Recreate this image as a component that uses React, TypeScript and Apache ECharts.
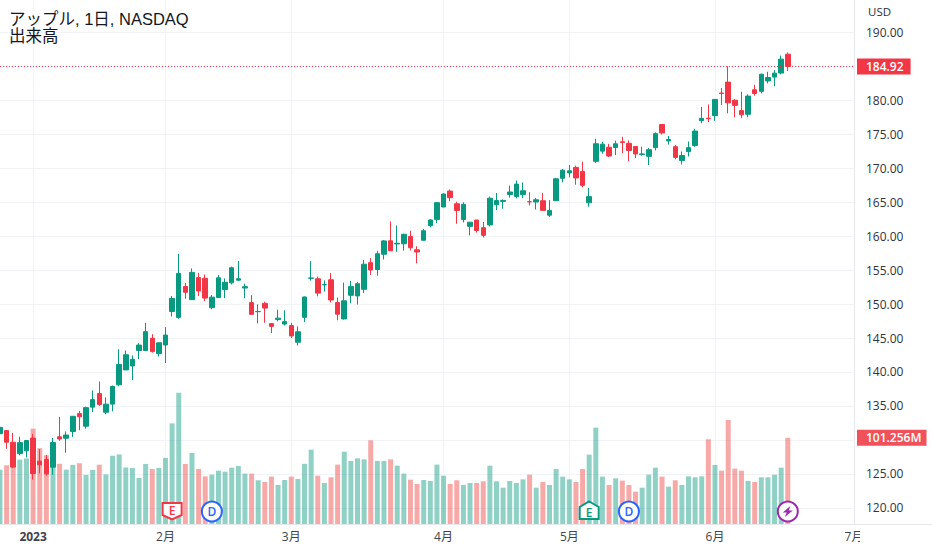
import React, { useEffect, useRef } from "react";
import * as echarts from "echarts";

const tradingDays = [
  "12-23","12-27","12-28","12-29","12-30",
  "01-03","01-04","01-05","01-06","01-09","01-10","01-11","01-12","01-13","01-17","01-18","01-19","01-20","01-23","01-24","01-25","01-26","01-27","01-30","01-31",
  "02-01","02-02","02-03","02-06","02-07","02-08","02-09","02-10","02-13","02-14","02-15","02-16","02-17","02-21","02-22","02-23","02-24","02-27","02-28",
  "03-01","03-02","03-03","03-06","03-07","03-08","03-09","03-10","03-13","03-14","03-15","03-16","03-17","03-20","03-21","03-22","03-23","03-24","03-27","03-28","03-29","03-30","03-31",
  "04-03","04-04","04-05","04-06","04-10","04-11","04-12","04-13","04-14","04-17","04-18","04-19","04-20","04-21","04-24","04-25","04-26","04-27","04-28",
  "05-01","05-02","05-03","05-04","05-05","05-08","05-09","05-10","05-11","05-12","05-15","05-16","05-17","05-18","05-19","05-22","05-23","05-24","05-25","05-26","05-30","05-31",
  "06-01","06-02","06-05","06-06","06-07","06-08","06-09","06-12","06-13","06-14","06-15","06-16",
];
const futureDays = ["06-20","06-21","06-22","06-23","06-26","06-27","06-28","06-29","06-30","07-03"];
const categories = [...tradingDays, ...futureDays];

const monthLabels: Record<string, string> = {
  "01-03": "2023", "02-01": "2月", "03-01": "3月", "04-03": "4月", "05-01": "5月", "06-01": "6月", "07-03": "7月",
};

const opens = [
  130.92,131.38,129.67,127.99,128.41,
  130.28,126.89,127.13,126.01,130.47,130.26,131.25,133.88,132.03,134.83,136.82,134.08,135.28,138.12,140.31,140.89,143.17,143.16,144.96,142.7,
  143.97,148.9,148.03,152.57,150.64,153.88,153.78,149.46,150.95,152.12,153.11,153.51,152.35,150.2,148.87,150.09,147.11,147.71,147.05,
  146.83,144.38,148.04,153.79,153.7,152.81,153.56,150.21,147.81,151.28,151.19,152.16,156.08,155.07,157.32,159.3,158.83,158.86,159.94,157.97,159.37,161.53,162.44,
  164.27,166.6,164.74,162.43,161.42,162.35,161.22,161.63,164.59,165.09,166.1,165.8,166.09,165.05,165,165.19,163.06,165.19,168.49,
  169.28,170.09,169.5,164.89,170.98,172.48,173.05,173.02,173.85,173.62,173.16,171.99,171.71,173,176.39,173.98,173.13,171.09,172.41,173.32,176.96,177.33,
  177.7,181.03,182.63,179.97,178.44,177.9,181.5,181.27,182.8,183.37,183.96,186.73,
];
const closes = [
  131.86,129.67,126.02,129.61,129.93,
  125.07,126.36,125.02,129.62,130.15,130.73,133.49,133.41,134.76,135.94,135.21,135.27,137.87,141.11,142.53,141.86,143.96,145.93,143,144.29,
  145.43,150.82,154.5,151.73,154.65,151.92,150.87,151.01,153.85,153.2,155.33,153.71,152.55,148.48,148.91,149.4,146.71,147.92,147.41,
  145.31,145.91,151.03,153.83,151.6,152.87,150.59,148.5,150.47,152.59,152.99,155.85,155,157.4,159.28,157.83,158.93,160.25,158.28,157.65,160.77,162.36,164.9,
  166.17,165.63,163.76,164.66,162.03,160.8,160.1,165.56,165.21,165.23,166.47,167.63,166.65,165.02,165.33,163.77,163.76,168.41,169.68,
  169.59,168.54,167.45,165.79,173.57,173.5,171.77,173.56,173.75,172.57,172.07,172.07,172.69,175.05,175.16,174.2,171.56,171.84,172.99,175.43,177.3,177.25,
  180.09,180.95,179.58,179.21,177.82,180.57,180.96,183.79,183.31,183.95,186.01,184.92,
];
const lows = [
  129.64,128.72,125.87,127.73,127.43,
  124.17,125.08,124.76,124.89,129.89,128.12,130.46,131.44,131.66,134.13,135.03,133.77,134.22,137.9,140.3,138.81,141.9,143.08,142.85,142.28,
  141.32,148.17,147.83,150.78,150.64,151.17,150.42,149.22,150.92,150.86,152.88,153.35,150.85,148.41,147.16,147.24,145.72,147.45,146.83,
  145.01,143.9,147.33,153.46,151.13,151.83,150.23,147.61,147.7,150.1,149.92,151.64,154.28,154.15,156.54,157.81,157.68,157.85,157.87,155.98,159.35,161.27,161.91,
  164.22,165.11,161.8,162,160.08,160.51,159.78,161.42,163.82,164.03,165.65,165.54,165.56,164.49,163.89,163.73,162.8,165.19,167.88,
  168.64,167.54,167.16,164.31,170.76,172.11,171.6,171.9,172.17,171,171.47,171.8,170.42,172.58,174.94,173.45,171.28,170.52,171.69,173.11,176.57,176.76,
  176.93,179.26,178.04,177.43,177.32,177.46,180.63,180.97,182.44,182.02,183.78,184.27,
];
const highs = [
  132.42,131.41,131.03,130.48,129.95,
  130.9,128.66,127.77,130.29,133.41,131.26,133.51,134.26,134.92,137.29,138.61,136.25,138.02,143.32,143.16,142.43,144.25,147.23,145.55,144.34,
  146.61,151.18,157.38,153.1,155.23,154.58,154.33,151.34,154.26,153.77,155.5,156.33,153,151.3,149.95,150.34,147.19,149.17,149.08,
  147.23,146.71,151.11,156.3,154.03,153.47,154.54,150.94,153.14,153.4,153.25,156.46,156.74,157.82,159.4,162.14,161.55,160.34,160.77,158.49,161.05,162.47,165,
  166.29,166.84,165.05,164.96,162.03,162.36,162.06,165.8,166.32,165.39,167.41,168.16,167.87,166.45,165.6,166.31,165.28,168.56,169.85,
  170.45,170.35,170.92,167.04,174.3,173.85,173.54,174.03,174.59,174.06,173.21,173.14,172.93,175.24,176.39,174.71,173.38,172.42,173.9,175.77,178.99,179.35,
  180.12,181.78,184.95,180.12,181.21,180.84,182.23,183.89,184.15,184.39,186.52,186.99,
];
const volumes = [
  63.8,69,85.4,75.7,77,
  112.1,89.1,80.9,87.7,70.8,63.9,69.5,71.4,57.8,63.6,69.7,58.3,80.2,81.8,66.4,65.8,54.1,70.6,64.7,65.9,
  77.7,118.3,154.3,70.6,83.5,64.7,56,58,62.7,61.5,66.2,68.2,59.2,59.2,51.4,49.4,55.7,45.9,51.7,
  55.7,52.9,70.7,87.4,56.8,48.2,54.9,69.8,85,74.1,77.2,76,98.4,74.1,74.1,76,68.6,59.2,52.1,47,51.7,50.6,69.8,
  56.8,47,51.4,45.9,48.2,48.2,50.2,68.6,50.2,42.7,50.6,48.2,52.5,58,42.7,49.4,45.9,64.7,55.7,
  52.5,49.4,64.7,81.5,113.3,55.7,45.9,53.7,51,45.9,38,42.7,58,66.2,55.7,43.9,51.4,45.9,56,54.9,56,99.6,
  69.4,62.7,122.3,65.1,62.7,50.6,49.4,54.9,54.9,58,66.2,101.256,
];
const priceTicks = [120,125,130,135,140,145,150,155,160,165,170,175,180,185,190];
const priceLabels = [120,125,135,140,145,150,155,160,165,170,175,180,190];
const lastPrice = 184.92;
const lastVolume = 101.256;
const events = [
  { day: "02-02", kind: "earningsDown", text: "E" },
  { day: "02-10", kind: "dividend", text: "D" },
  { day: "05-04", kind: "earningsUp", text: "E" },
  { day: "05-12", kind: "dividend", text: "D" },
  { day: "06-16", kind: "split", text: "" },
];

const UP = "#089981";
const DOWN = "#f23645";
const GRID = "#f1f3f7";
const FONT = "'Open Sans','Noto Sans CJK JP',sans-serif";
const TITLE_FONT = "'Liberation Sans','Noto Sans CJK JP',sans-serif";

function renderEvent(params: any, api: any) {
  const ev = events[params.dataIndex];
  const [x, y0] = api.coord([api.value(0), 0]);
  const cy = y0 - 12.5;
  const children: any[] = [];
  let color = "#2962ff";
  if (ev.kind === "earningsDown") {
    color = DOWN;
    children.push({
      type: "polygon",
      x, y: cy,
      shape: { points: [[-9.5,-8.5],[9.5,-8.5],[9.5,3.5],[0,8],[-9.5,3.5]] },
      style: { fill: "#fff", stroke: color, lineWidth: 2 },
    });
  } else if (ev.kind === "earningsUp") {
    color = UP;
    children.push({
      type: "polygon",
      x, y: cy,
      shape: { points: [[0,-10],[9.5,-4.5],[9.5,7.5],[-9.5,7.5],[-9.5,-4.5]] },
      style: { fill: "#fff", stroke: color, lineWidth: 2 },
    });
  } else {
    color = ev.kind === "split" ? "#9c27b0" : "#2962ff";
    children.push({
      type: "circle",
      x, y: cy,
      shape: { cx: 0, cy: 0, r: 10 },
      style: { fill: "#fff", stroke: color, lineWidth: 2 },
    });
  }
  if (ev.kind === "split") {
    children.push({
      type: "polygon",
      x, y: cy,
      shape: { points: [[2.5,-5.5],[-5,1],[-1,1],[-3,5.5],[5,-1],[1,-1]] },
      style: { fill: color },
    });
  } else {
    children.push({
      type: "text",
      x, y: cy + (ev.kind === "earningsDown" ? -1 : ev.kind === "earningsUp" ? 1 : 0),
      style: {
        text: ev.text, fill: color, fontSize: 12, fontWeight: 600, fontFamily: FONT,
        textAlign: "center", textVerticalAlign: "middle",
      },
    });
  }
  return { type: "group", children };
}

export default function App() {
  const ref = useRef<HTMLDivElement>(null);
  useEffect(() => {
    document.body.style.margin = "0";
    document.body.style.background = "#fff";
    const chart = echarts.init(ref.current!, undefined, { renderer: "svg" });
    const isMonth = (_: number, v: string) => v in monthLabels;
    chart.setOption({
      animation: false,
      backgroundColor: "#fff",
      title: [
        { text: "アップル, 1日, NASDAQ\n出来高", left: 4, top: 5, textStyle: { fontSize: 16.5, lineHeight: 17, fontWeight: 400, color: "#131722", fontFamily: TITLE_FONT } },
        { text: "USD", left: 863, top: 1, textStyle: { fontSize: 11.5, fontWeight: 400, color: "#2a2e39", fontFamily: FONT } },
      ],
      grid: { left: 0, top: 0, width: 854, height: 524, containLabel: false },
      xAxis: {
        type: "category",
        data: categories,
        boundaryGap: false,
        axisLine: { show: true, lineStyle: { color: "#e6e8ee", width: 1 } },
        axisTick: { show: false },
        splitLine: { show: true, interval: isMonth, lineStyle: { color: GRID, width: 1 } },
        axisLabel: {
          interval: isMonth,
          showMaxLabel: true,
          hideOverlap: false,
          margin: 6,
          fontSize: 12,
          fontFamily: FONT,
          color: "#3f434d",
          formatter: (v: string) => (v === "01-03" ? "{b|2023}" : monthLabels[v] ?? ""),
          rich: { b: { fontSize: 12, fontWeight: 700, fontFamily: FONT, color: "#3f434d" } },
        },
      },
      yAxis: [
        {
          type: "value",
          position: "right",
          min: 117.647,
          max: 194.706,
          axisLine: { show: true, lineStyle: { color: "#e6e8ee", width: 1 } },
          axisTick: { show: false, customValues: priceTicks },
          splitLine: { show: true, lineStyle: { color: GRID, width: 1 } },
          axisLabel: {
            customValues: priceLabels,
            margin: 12,
            fontSize: 12,
            fontFamily: FONT,
            color: "#2f333d",
            formatter: (v: number) => v.toFixed(2),
          },
        },
        { type: "value", min: 0, max: 616, show: false, splitLine: { show: false } },
      ],
      series: [
        {
          type: "bar",
          name: "出来高",
          yAxisIndex: 1,
          z: 1,
          barWidth: 5,
          data: volumes,
          itemStyle: {
            color: (p: any) => (closes[p.dataIndex] < opens[p.dataIndex] ? "rgba(239,83,80,0.5)" : "rgba(8,153,129,0.45)"),
          },
          markLine: {
            silent: true,
            symbol: "none",
            animation: false,
            lineStyle: { color: "rgba(0,0,0,0)", width: 1 },
            data: [{
              yAxis: lastVolume,
              label: {
                show: true, position: "end", distance: 3,
                formatter: () => `${lastVolume.toFixed(3)}M`,
                backgroundColor: "#f0515a", color: "#fff", fontSize: 12, fontWeight: 600, fontFamily: FONT,
                padding: [1, 5, 1, 9], lineHeight: 14,
              },
            }],
          },
        },
        {
          type: "candlestick",
          name: "アップル",
          yAxisIndex: 0,
          z: 2,
          barWidth: 5,
          data: tradingDays.map((_, i) => [opens[i], closes[i], lows[i], highs[i]]),
          itemStyle: { color: UP, color0: DOWN, borderColor: UP, borderColor0: DOWN, borderWidth: 1 },
          markLine: {
            silent: true,
            symbol: "none",
            animation: false,
            lineStyle: { color: DOWN, type: [1, 2], width: 1 },
            data: [{
              yAxis: lastPrice,
              label: {
                show: true, position: "end", distance: 3,
                formatter: () => lastPrice.toFixed(2),
                backgroundColor: DOWN, color: "#fff", fontSize: 12, fontWeight: 600, fontFamily: FONT,
                padding: [1, 7, 1, 9], lineHeight: 14,
              },
            }],
          },
        },
        {
          type: "custom",
          name: "イベント",
          yAxisIndex: 1,
          z: 5,
          clip: false,
          silent: true,
          renderItem: renderEvent,
          encode: { x: 0, y: 1 },
          data: events.map((e) => [categories.indexOf(e.day), 0]),
        },
      ],
      graphic: [
        { type: "line", z: 10, silent: true, shape: { x1: 854, y1: 524.5, x2: 932, y2: 524.5 }, style: { stroke: "#e6e8ee", lineWidth: 1 } },
        { type: "rect", z: 10, silent: true, shape: { x: 860, y: 527, width: 72, height: 23 }, style: { fill: "#fff" } },
      ],
    });
    return () => chart.dispose();
  }, []);
  return <div ref={ref} style={{ width: 932, height: 550 }} />;
}
